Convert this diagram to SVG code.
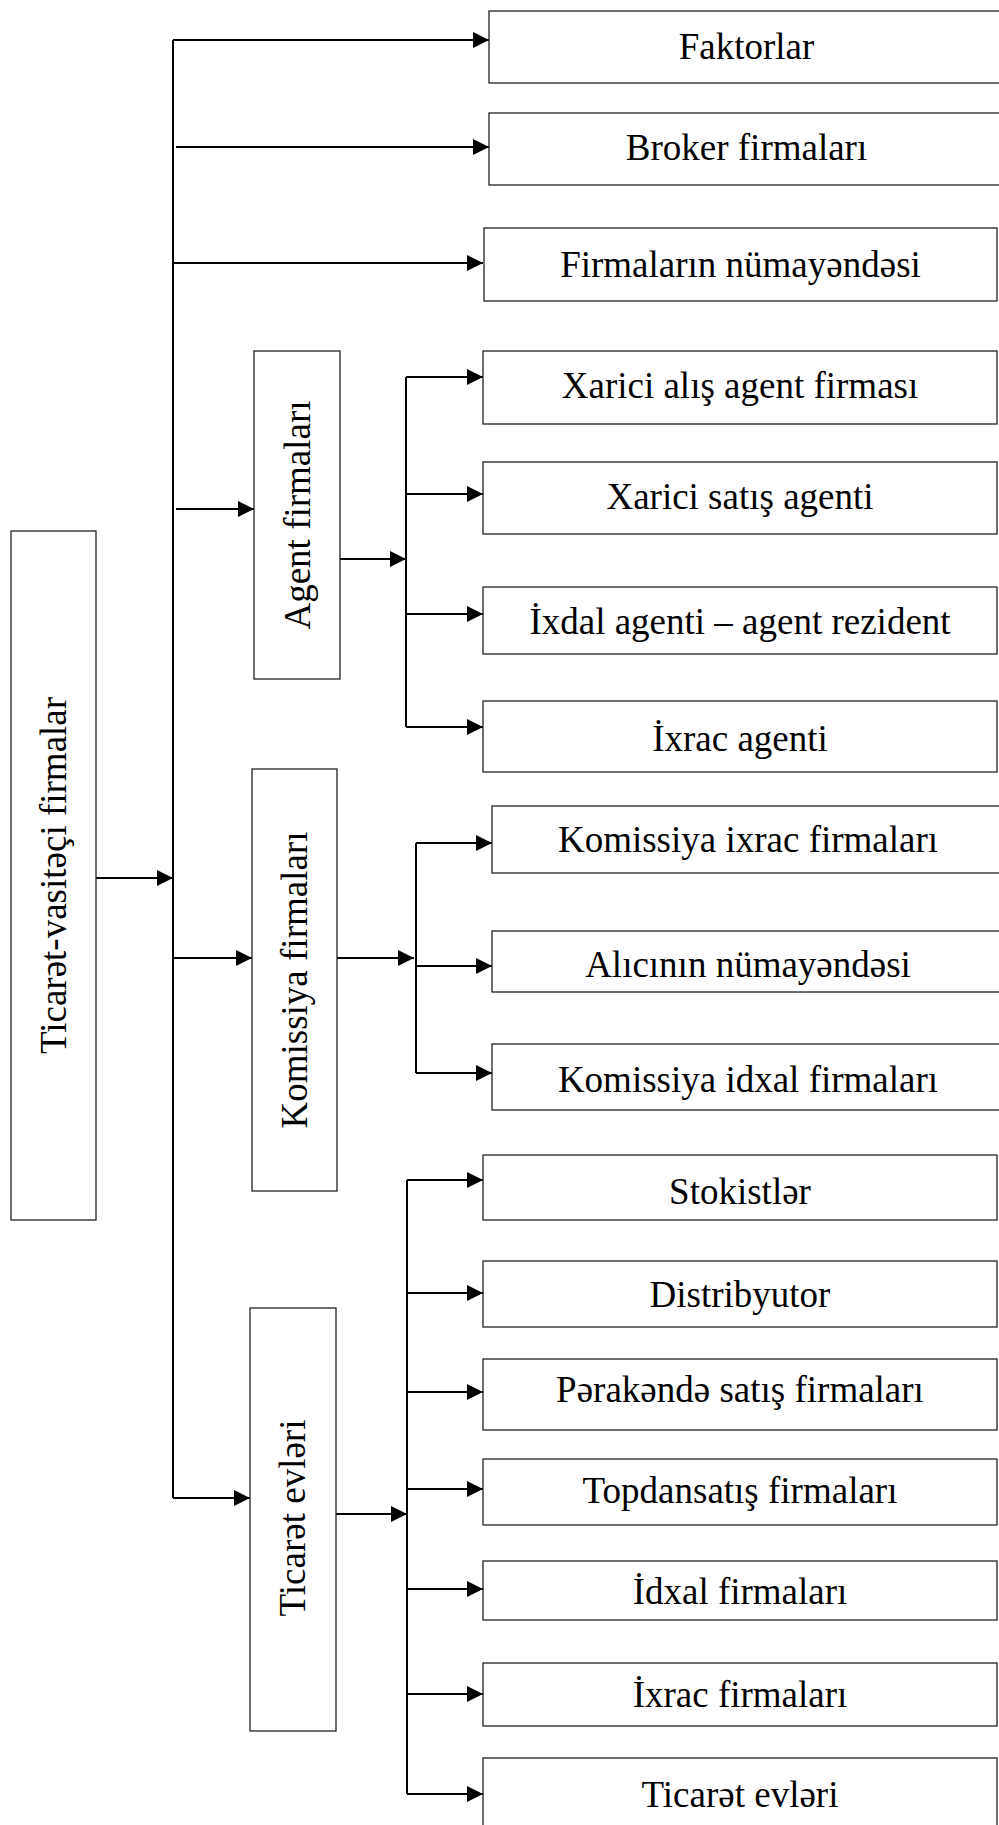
<svg xmlns="http://www.w3.org/2000/svg" width="999" height="1825" viewBox="0 0 999 1825">
<style>
.box{fill:#fff;stroke:#222;stroke-width:1.3}
.lbl{font-family:"Liberation Serif","Times New Roman",serif;font-size:37px;fill:#000;text-anchor:middle}
.c{fill:none;stroke:#000;stroke-width:2}
.a{fill:none;stroke:#000;stroke-width:2;marker-end:url(#ah)}
</style>
<defs>
<marker id="ah" markerUnits="userSpaceOnUse" markerWidth="16" markerHeight="16" viewBox="0 0 16 16" refX="16" refY="8" orient="auto">
<path d="M0,0 L16,8 L0,16 z" fill="#000"/>
</marker>
</defs>
<rect width="999" height="1825" fill="#fff"/>
<g id="connectors">
<path class="c" d="M173,1498 V40"/>
<path class="a" d="M173,40 H489"/>
<path class="a" d="M176,147 H489"/>
<path class="a" d="M173,263 H483"/>
<path class="a" d="M176,509 H254"/>
<path class="a" d="M173,958 H252"/>
<path class="a" d="M173,1498 H250"/>
<path class="a" d="M96,878 H173"/>
<path class="a" d="M340,559 H406"/>
<path class="c" d="M406,377 V727"/>
<path class="a" d="M406,377 H483"/>
<path class="a" d="M406,494 H483"/>
<path class="a" d="M406,614 H483"/>
<path class="a" d="M406,727 H483"/>
<path class="a" d="M337,958 H414"/>
<path class="c" d="M416,843 V1073"/>
<path class="a" d="M416,843 H492"/>
<path class="a" d="M416,966 H492"/>
<path class="a" d="M416,1073 H492"/>
<path class="a" d="M336,1514 H407"/>
<path class="c" d="M407,1180 V1794"/>
<path class="a" d="M407,1180 H483"/>
<path class="a" d="M407,1293 H483"/>
<path class="a" d="M407,1392 H483"/>
<path class="a" d="M407,1489 H483"/>
<path class="a" d="M407,1589 H483"/>
<path class="a" d="M407,1694 H483"/>
<path class="a" d="M407,1794 H483"/>
</g>
<g id="main"><rect class="box" x="11" y="531" width="85" height="689"/><text class="lbl" transform="translate(53.5,875.5) rotate(-90)" x="0" y="12.5">Ticarət-vasitəçi firmalar</text></g>
<g id="faktorlar"><rect class="box" x="489" y="11" width="516" height="72"/><text class="lbl" x="746.5" y="59">Faktorlar</text></g>
<g id="broker"><rect class="box" x="489" y="113" width="516" height="72"/><text class="lbl" x="746.5" y="160">Broker firmaları</text></g>
<g id="firmalarin"><rect class="box" x="484" y="228" width="513" height="73"/><text class="lbl" x="740.5" y="277">Firmaların nümayəndəsi</text></g>
<g id="agent"><rect class="box" x="254" y="351" width="86" height="328"/><text class="lbl" transform="translate(297,515) rotate(-90)" x="0" y="12.5">Agent firmaları</text></g>
<g id="xarici-alis"><rect class="box" x="483" y="351" width="514" height="73"/><text class="lbl" x="740" y="398">Xarici alış agent firması</text></g>
<g id="xarici-satis"><rect class="box" x="483" y="462" width="514" height="72"/><text class="lbl" x="740" y="509">Xarici satış agenti</text></g>
<g id="ixdal-agenti"><rect class="box" x="483" y="587" width="514" height="67"/><text class="lbl" x="740" y="634">İxdal agenti – agent rezident</text></g>
<g id="ixrac-agenti"><rect class="box" x="483" y="701" width="514" height="71"/><text class="lbl" x="740" y="751">İxrac agenti</text></g>
<g id="komissiya"><rect class="box" x="252" y="769" width="85" height="422"/><text class="lbl" transform="translate(294.5,980) rotate(-90)" x="0" y="12.5">Komissiya firmaları</text></g>
<g id="komissiya-ixrac"><rect class="box" x="492" y="806" width="514" height="67"/><text class="lbl" x="748" y="852">Komissiya ixrac firmaları</text></g>
<g id="alicinin"><rect class="box" x="492" y="931" width="514" height="61"/><text class="lbl" x="748" y="977">Alıcının nümayəndəsi</text></g>
<g id="komissiya-idxal"><rect class="box" x="492" y="1044" width="514" height="66"/><text class="lbl" x="748" y="1092">Komissiya idxal firmaları</text></g>
<g id="ticaret"><rect class="box" x="250" y="1308" width="86" height="423"/><text class="lbl" transform="translate(293,1518) rotate(-90)" x="0" y="12">Ticarət evləri</text></g>
<g id="stokistler"><rect class="box" x="483" y="1155" width="514" height="65"/><text class="lbl" x="740" y="1204">Stokistlər</text></g>
<g id="distribyutor"><rect class="box" x="483" y="1261" width="514" height="66"/><text class="lbl" x="740" y="1307">Distribyutor</text></g>
<g id="perakende"><rect class="box" x="483" y="1359" width="514" height="71"/><text class="lbl" x="740" y="1402">Pərakəndə satış firmaları</text></g>
<g id="topdansatis"><rect class="box" x="483" y="1459" width="514" height="66"/><text class="lbl" x="740" y="1503">Topdansatış firmaları</text></g>
<g id="idxal"><rect class="box" x="483" y="1561" width="514" height="59"/><text class="lbl" x="740" y="1604">İdxal firmaları</text></g>
<g id="ixrac"><rect class="box" x="483" y="1663" width="514" height="63"/><text class="lbl" x="740" y="1707">İxrac firmaları</text></g>
<g id="ticaret-evleri"><rect class="box" x="483" y="1758" width="514" height="80"/><text class="lbl" x="740" y="1807">Ticarət evləri</text></g>
</svg>
